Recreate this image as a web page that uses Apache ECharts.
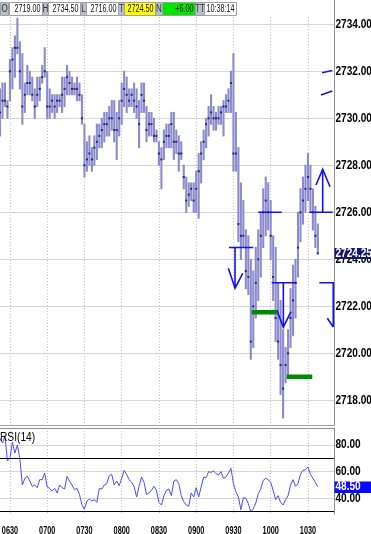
<!DOCTYPE html>
<html><head><meta charset="utf-8">
<script src="https://cdn.jsdelivr.net/npm/echarts@6/dist/echarts.min.js"></script>
<style>html,body{margin:0;padding:0;background:#fff;overflow:hidden}#c{width:371px;height:534px}</style>
</head><body><div id="c"></div>
<script>
// ---- data ----
const FIRST_BAR = 382;   // 06:22 (minutes after midnight)
const BAR_MIN = 2;
const highs = [2731.25,2731.5,2731.5,2730.75,2732.5,2733,2733.5,2734.25,2733.25,2732.75,
2731.5,2732.25,2732,2731.75,2731.25,2731.75,2731.75,2732.25,2733,2732,
2731.25,2731,2731,2731,2731,2731.75,2731.75,2732.25,2732,2731.75,
2731.5,2731.75,2731.5,2731,2729.75,2729,2729.25,2728.75,2729.25,2729.75,
2729.75,2730,2730.25,2730.25,2730.5,2730.75,2730.75,2730.25,2730.75,2731.5,
2732,2731.75,2731.25,2731.25,2731.5,2731.25,2730.75,2731.5,2731.5,2730.5,
2730.25,2730.25,2730,2729.5,2729,2728.75,2729.5,2729.75,2729.75,2730.25,
2730.25,2729.5,2729.25,2729,2728,2727.5,2727.25,2727.25,2727.25,2727.75,
2728.5,2729,2729.5,2730,2730.5,2731,2730.5,2730.25,2730.5,2730.5,
2730.75,2731,2731.25,2732,2732.75,2730.25,2728.75,2727.25,2726.5,2725.25,
2725,2724,2723.5,2724.5,2725.25,2726,2727,2727.5,2727.25,2726.5,
2725,2724.5,2723,2722.25,2721,2720.25,2721,2722.75,2723.75,2724,
2726,2727,2727.5,2728,2728.5,2728,2727,2726.25,2725.5];
const lows = [2729.25,2730,2730.5,2730,2730.75,2731.25,2731.75,2732.75,2731.25,2729.75,
2730.25,2731,2731,2730.75,2730,2730.5,2730.75,2731.5,2731.75,2730,
2730,2730.25,2730,2730.25,2730.5,2730.25,2730.5,2731,2731,2731,
2731,2730.75,2730.75,2729.75,2727.5,2727.75,2728,2727.75,2728,2728.25,
2728.75,2728.75,2729,2729.25,2729.25,2729.5,2729,2728.25,2729.25,2729.75,
2730.5,2730.25,2730.5,2730.5,2730.25,2730,2728.75,2730.25,2730.25,2729,
2729.25,2729.25,2729,2729,2728,2727,2728.25,2728.75,2728.75,2728.75,
2728.25,2728.5,2727.75,2728.25,2727,2726,2726.25,2726.5,2726,2726,
2725.75,2727.25,2728.25,2728.75,2729.25,2729.75,2729.5,2729.5,2729.75,2729.75,
2729.25,2730.25,2730.25,2730.25,2727.75,2727.75,2724.75,2724,2724.5,2722.75,
2722.5,2719.75,2720.25,2721.5,2722.25,2723.25,2724.5,2725,2725.25,2724,
2722.25,2720.5,2719.75,2718.25,2717.25,2718.75,2719,2720.25,2720.75,2721.5,
2723.25,2724.75,2725.5,2726,2726.5,2726,2725.25,2724.5,2724.25];
const closes = [2730.25,2730.75,2730.75,2730.5,2732,2732.5,2733,2733,2732,2730.5,
2731,2731.5,2731.5,2731,2730.5,2731,2731.25,2731.75,2732,2730.5,
2730.5,2730.75,2730.5,2730.75,2730.75,2731,2731.25,2731.75,2731.5,2731.25,
2731.25,2731.25,2731,2730,2728,2728.25,2728.5,2728.25,2728.75,2729,
2729.25,2729.5,2729.75,2729.75,2730,2730,2729.5,2729.5,2730,2730.75,
2731.25,2731,2730.75,2731,2730.75,2730.5,2729.75,2731,2730.75,2729.5,
2729.75,2729.75,2729.25,2729.25,2728.5,2728.25,2729,2729.25,2729.25,2729.75,
2729,2729,2728.5,2728.5,2727.5,2726.5,2726.75,2727,2726.5,2727,
2727.75,2728.5,2729,2729.75,2730,2730.25,2730,2730,2730,2730.25,
2730.5,2730.5,2730.75,2731.5,2728.5,2728.5,2725.5,2725,2725,2723.5,
2723.25,2720.5,2722,2723,2724,2725,2726,2726.5,2726,2725,
2723.25,2721.5,2720.5,2719.5,2718.5,2719.5,2720,2721.5,2722.25,2723,
2724.5,2726,2726.5,2727,2727.5,2727,2726,2725,2724.25];
const rsi = [85,81.5,86.7,68,70,82,74,80,70,50,
55,56.5,53,49,50,48,54,54,59,48.5,
47.5,45.5,47.5,44,50,48,47,56.5,53,50,
46.5,47.5,43,35,32,38,39.5,38,39,37,
47.5,47,50,51,57,58,50,53,49.5,55,
61,58,54,52,49,41,49,56,52,43,
44,46,49,46,37,35,42,46,47,42,
53,54,51,42,37.5,35,34,44,41,48,
41,48.5,56,55.5,60,59.5,60.5,58.5,57.5,60,
55,56,59,62.5,51,45,41,31.5,40.5,40,
36,30,32,36.5,43.5,47,53.5,55,54,52,
46,39,42,37,35,39,42,50,54,49,
51,58,61,61.5,63.5,58,55,52,48.5];
const timeTicks = [390,420,450,480,510,540,570,600,630];
const priceTicks = [2718,2720,2722,2724,2726,2728,2730,2732,2734];
const rsiTicks = [40,60,80];
const rsiBands = [70,30];
const lastPrice = 2724.25;
const lastRsi = 48.50;
const headerLabels = ['O','H','L','T','N','TT'];
const headerValues = ['2719.00','2734.50','2716.00','2724.50','+6.00','10:38:14'];
// hand-drawn annotations (time in minutes, price)
const blueMarks = [
 [[566.4,2724.5],[586,2724.5]], [[571.3,2724.5],[571.3,2722.77]], [[565.9,2723.62],[571.3,2722.77],[577.5,2723.4]],
 [[590,2726],[608.9,2726]],
 [[600.8,2723],[621,2723]], [[610.2,2723],[610.2,2721.11]], [[604.9,2721.84],[610.2,2721.11],[616.4,2721.77]],
 [[631.1,2726],[650,2726]], [[641.9,2726],[641.9,2727.83]], [[636.5,2727.16],[641.9,2727.83],[647.8,2727.09]],
 [[639.2,2723],[651,2723]], [[650.4,2723],[650.4,2721.12]], [[645.6,2721.49],[650.4,2721.12]],
 [[641.3,2731.94],[649.6,2732.03]], [[640.5,2730.99],[649.6,2731.16]]
];
const greenMarks = [
 [[584.7,2721.75],[604.9,2721.75]], [[612.9,2719],[633.5,2719]]
];

// ---- build ----
const barTimes = highs.map((_, i) => FIRST_BAR + i * BAR_MIN);
const barData = barTimes.map((t, i) => [t, highs[i], lows[i], closes[i]]);
const rsiData = barTimes.map((t, i) => [t, rsi[i]]);
const FONT = '"Liberation Sans Narrow","Liberation Sans",Arial,sans-serif';
const fmtTime = v => String(Math.floor(v / 60)).padStart(2, '0') + String(v % 60).padStart(2, '0');

const chart = echarts.init(document.getElementById('c'), null, {renderer: 'canvas'});
chart.setOption({
  animation: false,
  backgroundColor: '#ffffff',
  grid: [
    {left: 0, right: 37, top: 17, bottom: 109, containLabel: false, outerBoundsMode: 'none'},
    {left: 0, right: 37, top: 428, bottom: 20, containLabel: false, outerBoundsMode: 'none'}
  ],
  xAxis: [
    {type: 'value', gridIndex: 0, min: 382, max: 651,
     axisLine: {show: true, onZero: false, lineStyle: {color: '#a0a0a0'}},
     axisTick: {show: false, customValues: timeTicks},
     axisLabel: {show: false, customValues: timeTicks},
     splitLine: {show: true, lineStyle: {color: '#c4c4c4', type: [1, 2]}}},
    {type: 'value', gridIndex: 1, min: 382, max: 651,
     axisLine: {show: false, onZero: false},
     axisTick: {show: false, customValues: timeTicks},
     axisLabel: {show: false, customValues: timeTicks},
     splitLine: {show: true, lineStyle: {color: '#c4c4c4', type: [1, 2]}}}
  ],
  yAxis: [
    {type: 'value', gridIndex: 0, position: 'right', min: 2716.95, max: 2734.31,
     axisLine: {show: true, lineStyle: {color: '#909090'}},
     axisTick: {show: false, customValues: priceTicks},
     axisLabel: {show: false, customValues: priceTicks},
     splitLine: {show: true, lineStyle: {color: '#d6d6d6', width: 1}}},
    {type: 'value', gridIndex: 1, position: 'right', min: 28.25, max: 92.75,
     axisLine: {show: true, lineStyle: {color: '#909090'}},
     axisTick: {show: false, customValues: rsiTicks},
     axisLabel: {show: false, customValues: rsiTicks},
     splitLine: {show: true, lineStyle: {color: '#d6d6d6', width: 1}}}
  ],
  series: [
    {type: 'custom', xAxisIndex: 0, yAxisIndex: 0, clip: true, silent: true,
     data: barData, encode: {x: 0, y: [1, 2, 3]},
     renderItem: (params, api) => {
       const t = api.value(0);
       const hi = api.coord([t, api.value(1)]);
       const lo = api.coord([t, api.value(2)]);
       const cl = api.coord([t, api.value(3)]);
       return {type: 'group', children: [
         {type: 'line', shape: {x1: hi[0], y1: hi[1] - 0.5, x2: lo[0], y2: lo[1] + 0.5},
          style: {stroke: '#8a8acc', lineWidth: 2.1}},
         {type: 'rect', shape: {x: cl[0] - 1, y: cl[1] - 1, width: 2, height: 2},
          style: {fill: '#262679'}}
       ]};
     }},
    {type: 'lines', coordinateSystem: 'cartesian2d', xAxisIndex: 0, yAxisIndex: 0, polyline: true, silent: true,
     data: blueMarks.map(c => ({coords: c})), lineStyle: {color: '#1212ee', width: 1.6, opacity: 1}, z: 5},
    {type: 'lines', coordinateSystem: 'cartesian2d', xAxisIndex: 0, yAxisIndex: 0, polyline: true, silent: true,
     data: greenMarks.map(c => ({coords: c})), lineStyle: {color: '#008a00', width: 4.5, opacity: 1}, z: 5},
    {type: 'line', xAxisIndex: 1, yAxisIndex: 1, data: rsiData, showSymbol: false, silent: true,
     lineStyle: {color: '#4b4bff', width: 1}, z: 4,
     markLine: {silent: true, symbol: 'none', animation: false, label: {show: false},
       data: rsiBands.map(v => ({yAxis: v})),
       lineStyle: {color: '#000', width: 1, type: 'solid'}}}
  ]
});

// ---- text overlays (condensed labels, placed through the axes' own scales) ----
const px = (q, v) => chart.convertToPixel(q, v);
const graphics = [];
const hdrLabelX = [0, 42, 80, 118, 155, 195], hdrLabelW = [8, 6, 6, 6, 7, 9];
const hdrValX = [9, 48, 86, 124, 162, 204], hdrValW = [33, 32, 32, 31, 33, 32];
const hdrFill = ['#ffffff', '#ffffff', '#ffffff', '#ffff00', '#00e600', '#ffffff'];
headerLabels.forEach((lab, i) => {
  graphics.push({type: 'rect', shape: {x: hdrLabelX[i] + 0.5, y: 2.5, width: hdrLabelW[i], height: 13},
    style: {fill: '#b9bec8', stroke: '#9a9ea8', lineWidth: 1}, z: 100});
  graphics.push({type: 'text', x: hdrLabelX[i] + hdrLabelW[i] / 2 + 0.5, y: 9.5, scaleX: 0.8,
    style: {text: lab, fill: '#333', font: '10px ' + FONT, align: 'center', verticalAlign: 'middle'}, z: 101});
  graphics.push({type: 'rect', shape: {x: hdrValX[i] + 0.5, y: 2.5, width: hdrValW[i], height: 13},
    style: {fill: hdrFill[i], stroke: '#a0a0a0', lineWidth: 1}, z: 100});
  graphics.push({type: 'text', x: hdrValX[i] + hdrValW[i] - 1.5, y: 9.5, scaleX: 0.72,
    style: {text: headerValues[i], fill: '#111', font: '10px ' + FONT, align: 'right', verticalAlign: 'middle'}, z: 101});
});
graphics.push({type: 'line', shape: {x1: 0, y1: 428.5, x2: 334, y2: 428.5}, style: {stroke: '#909090', lineWidth: 1}, z: 50});
graphics.push({type: 'line', shape: {x1: 334.5, y1: 0, x2: 334.5, y2: 18}, style: {stroke: '#909090', lineWidth: 1}, z: 50});
graphics.push({type: 'text', x: 0, y: 438, scaleX: 0.85, style: {text: 'RSI(14)', fill: '#000', font: '12px ' + FONT, verticalAlign: 'middle'}, z: 60});

const axisX = px({xAxisIndex: 0}, 651) + 1.5;
priceTicks.forEach(v => {
  graphics.push({type: 'text', x: axisX, y: px({yAxisIndex: 0}, v), scaleX: 0.84, z: 60,
    style: {text: v.toFixed(2), fill: '#000', font: 'bold 12px ' + FONT, verticalAlign: 'middle'}});
});
rsiTicks.forEach(v => {
  graphics.push({type: 'text', x: axisX, y: px({yAxisIndex: 1}, v), scaleX: 0.84, z: 60,
    style: {text: v.toFixed(2), fill: '#000', font: 'bold 12px ' + FONT, verticalAlign: 'middle'}});
});
timeTicks.forEach(v => {
  graphics.push({type: 'text', x: px({xAxisIndex: 1}, v), y: 531, scaleX: 0.66, z: 60,
    style: {text: fmtTime(v), fill: '#000', font: 'bold 11px ' + FONT, align: 'center', verticalAlign: 'middle'}});
});
const lpY = px({yAxisIndex: 0}, lastPrice);
graphics.push({type: 'rect', shape: {x: axisX - 1, y: lpY - 5.5, width: 40, height: 11}, style: {fill: '#15156c'}, z: 70});
graphics.push({type: 'text', x: axisX, y: lpY, scaleX: 0.84, z: 71,
  style: {text: lastPrice.toFixed(2), fill: '#fff', font: 'bold 12px ' + FONT, verticalAlign: 'middle'}});
const lrY = px({yAxisIndex: 1}, lastRsi);
graphics.push({type: 'rect', shape: {x: axisX - 1, y: lrY - 5.5, width: 40, height: 11.5}, style: {fill: '#0a0aff'}, z: 70});
graphics.push({type: 'text', x: axisX, y: lrY, scaleX: 0.84, z: 71,
  style: {text: lastRsi.toFixed(2), fill: '#fff', font: 'bold 12px ' + FONT, verticalAlign: 'middle'}});

chart.setOption({graphic: graphics});
</script></body></html>
